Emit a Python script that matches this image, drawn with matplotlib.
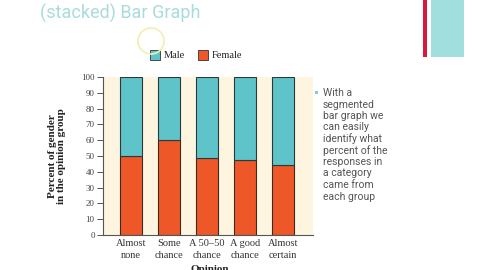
import matplotlib.pyplot as plt
from matplotlib.patches import Ellipse, Rectangle
import numpy as np

opinions = ['Almost\nnone', 'Some\nchance', 'A 50\u201350\nchance', 'A good\nchance', 'Almost\ncertain']
female = [50, 60, 49, 47.5, 44.5]
male = [100 - f for f in female]
bullet_lines = ['With a', 'segmented', 'bar graph we', 'can easily', 'identify what',
                'percent of the', 'responses in', 'a category', 'came from', 'each group']

teal = '#5fc3ca'
orange = '#ee5829'
serif = 'Liberation Serif'

fig = plt.figure(figsize=(4.8, 2.7), dpi=100)
fig.patch.set_facecolor('white')

ax = fig.add_axes([103/480, 1-235/270, (313-103)/480, (235-77)/270])
ax.set_facecolor('#fdf5e0')
x = np.arange(len(opinions))
ax.bar(x, female, width=0.58, color=orange, edgecolor='#3a2a20', linewidth=0.8)
ax.bar(x, male, bottom=female, width=0.58, color=teal, edgecolor='#2a3a3a', linewidth=0.8)
ax.set_xlim(-0.74, 4.79)
ax.set_ylim(0, 100)
ax.set_yticks(range(0, 101, 10))
ax.set_xticks(x)
ax.set_xticklabels(opinions, family=serif, fontsize=7.5, color='#333333', linespacing=1.4)
for lab in ax.get_yticklabels():
    lab.set_family(serif)
    lab.set_fontsize(6.5)
    lab.set_color('#444444')
ax.tick_params(axis='y', length=4, width=0.7, color='#555555', pad=2)
ax.tick_params(axis='x', length=0, pad=3)
for s in ['top', 'right']:
    ax.spines[s].set_visible(False)
for s in ['left', 'bottom']:
    ax.spines[s].set_color('#555555')
    ax.spines[s].set_linewidth(0.8)

fig.text(57/480, 1-156/270, 'Percent of gender\nin the opinion group', rotation=90,
         ha='center', va='center', family=serif, fontweight='bold', fontsize=8,
         color='#222222', linespacing=1.1)
fig.text(210/480, 1-274/270, 'Opinion', ha='center', va='bottom', family=serif,
         fontweight='bold', fontsize=8, color='#222222')

# legend
fig.patches.append(Rectangle((150/480, 1-60/270), 10/480, 10/270, transform=fig.transFigure,
                             facecolor=teal, edgecolor='#333333', linewidth=0.6))
fig.text(164/480, 1-55/270, 'Male', va='center', family=serif, fontsize=7.5, color='#222222')
fig.patches.append(Rectangle((198/480, 1-60/270), 10/480, 10/270, transform=fig.transFigure,
                             facecolor=orange, edgecolor='#333333', linewidth=0.6))
fig.text(212/480, 1-55/270, 'Female', va='center', family=serif, fontsize=7.5, color='#222222')

# slide title and decorations
fig.text(40/480, 1-13/270, '(stacked) Bar Graph', va='center', fontsize=13,
         color='#a9dcdc', family='Roboto')
fig.patches.append(Rectangle((423/480, 1-57/270), 4/480, 57/270, transform=fig.transFigure,
                             facecolor='#d8193c', edgecolor='none'))
fig.patches.append(Rectangle((431/480, 1-57/270), 33/480, 57/270, transform=fig.transFigure,
                             facecolor='#a1dfdf', edgecolor='none'))
fig.patches.append(Ellipse((151/480, 1-41/270), 26/480, 26/270, transform=fig.transFigure,
                           facecolor='none', edgecolor='#f3efb0', linewidth=1.2))

# bullet text
fig.patches.append(Rectangle((315/480, 1-94/270), 3/480, 3/270, transform=fig.transFigure,
                             facecolor='#7fcfcf', edgecolor='none'))
for i, line in enumerate(bullet_lines):
    fig.text(323/480, 1-(93 + i*11.5)/270, line, va='center', fontsize=7.5,
             color='#555555', family='Roboto')

fig.savefig('out.png', dpi=100)
